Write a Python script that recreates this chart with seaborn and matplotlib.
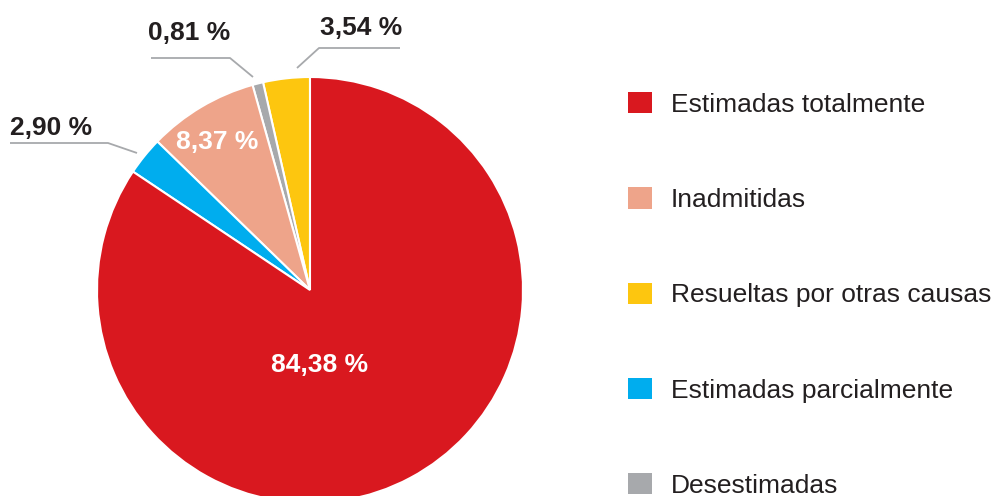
import matplotlib
matplotlib.use("Agg")
import matplotlib.pyplot as plt
import seaborn as sns
from matplotlib.patches import Patch

# ---- data ----
categories = ["Estimadas totalmente", "Inadmitidas", "Resueltas por otras causas",
              "Estimadas parcialmente", "Desestimadas"]
values = [84.38, 8.37, 3.54, 2.90, 0.81]
colors = ["#D9181F", "#EEA48A", "#FDC60F", "#00ADEE", "#A7A9AC"]
labels = ["84,38 %", "8,37 %", "3,54 %", "2,90 %", "0,81 %"]

# drawing order (counter-clockwise from the top)
draw_order = ["Resueltas por otras causas", "Desestimadas", "Inadmitidas",
              "Estimadas parcialmente", "Estimadas totalmente"]

sns.set_theme(style="white")
plt.rcParams["font.family"] = ["Liberation Sans", "DejaVu Sans"]

W, H = 997, 496
fig = plt.figure(figsize=(W / 100, H / 100), dpi=100)
ax = fig.add_axes([0, 0, 1, 1])

def P(x, y):
    return (x, H - y)

idx = [categories.index(c) for c in draw_order]
ax.pie([values[i] for i in idx], colors=[colors[i] for i in idx],
       startangle=90, counterclock=True, radius=213, center=P(310, 290),
       wedgeprops=dict(edgecolor="white", linewidth=1.5), frame=False)
ax.set_xlim(0, W)
ax.set_ylim(0, H)
ax.set_aspect("auto")
ax.axis("off")

dark = "#231F20"
fs = 19
# inside labels
ax.text(*P(320, 365), labels[0], color="white", fontsize=fs, fontweight="bold",
        ha="center", va="center")
ax.text(*P(217, 142), labels[1], color="white", fontsize=fs, fontweight="bold",
        ha="center", va="center")
# outside labels
ax.text(*P(361, 28), labels[2], color=dark, fontsize=fs, fontweight="bold",
        ha="center", va="center")
ax.text(*P(51, 128), labels[3], color=dark, fontsize=fs, fontweight="bold",
        ha="center", va="center")
ax.text(*P(189, 33), labels[4], color=dark, fontsize=fs, fontweight="bold",
        ha="center", va="center")

lc = "#A7A9AC"
for pts in ([(297, 68), (319, 48), (400, 48)],
            [(10, 143), (108, 143), (137, 153)],
            [(151, 58), (230, 58), (253, 77)]):
    xs = [P(*p)[0] for p in pts]
    ys = [P(*p)[1] for p in pts]
    ax.plot(xs, ys, color=lc, lw=1.3, solid_capstyle="butt")

handles = [Patch(facecolor=c, edgecolor="none") for c in colors]
leg = ax.legend(handles, categories, loc="upper left",
                bbox_to_anchor=(628 / W, 1 - 92 / H), bbox_transform=fig.transFigure,
                frameon=False, fontsize=fs, labelcolor=dark,
                handlelength=0.9, handleheight=0.87, handletextpad=0.72,
                labelspacing=2.67, borderpad=0, borderaxespad=0)

fig.savefig("out.png", dpi=100)
